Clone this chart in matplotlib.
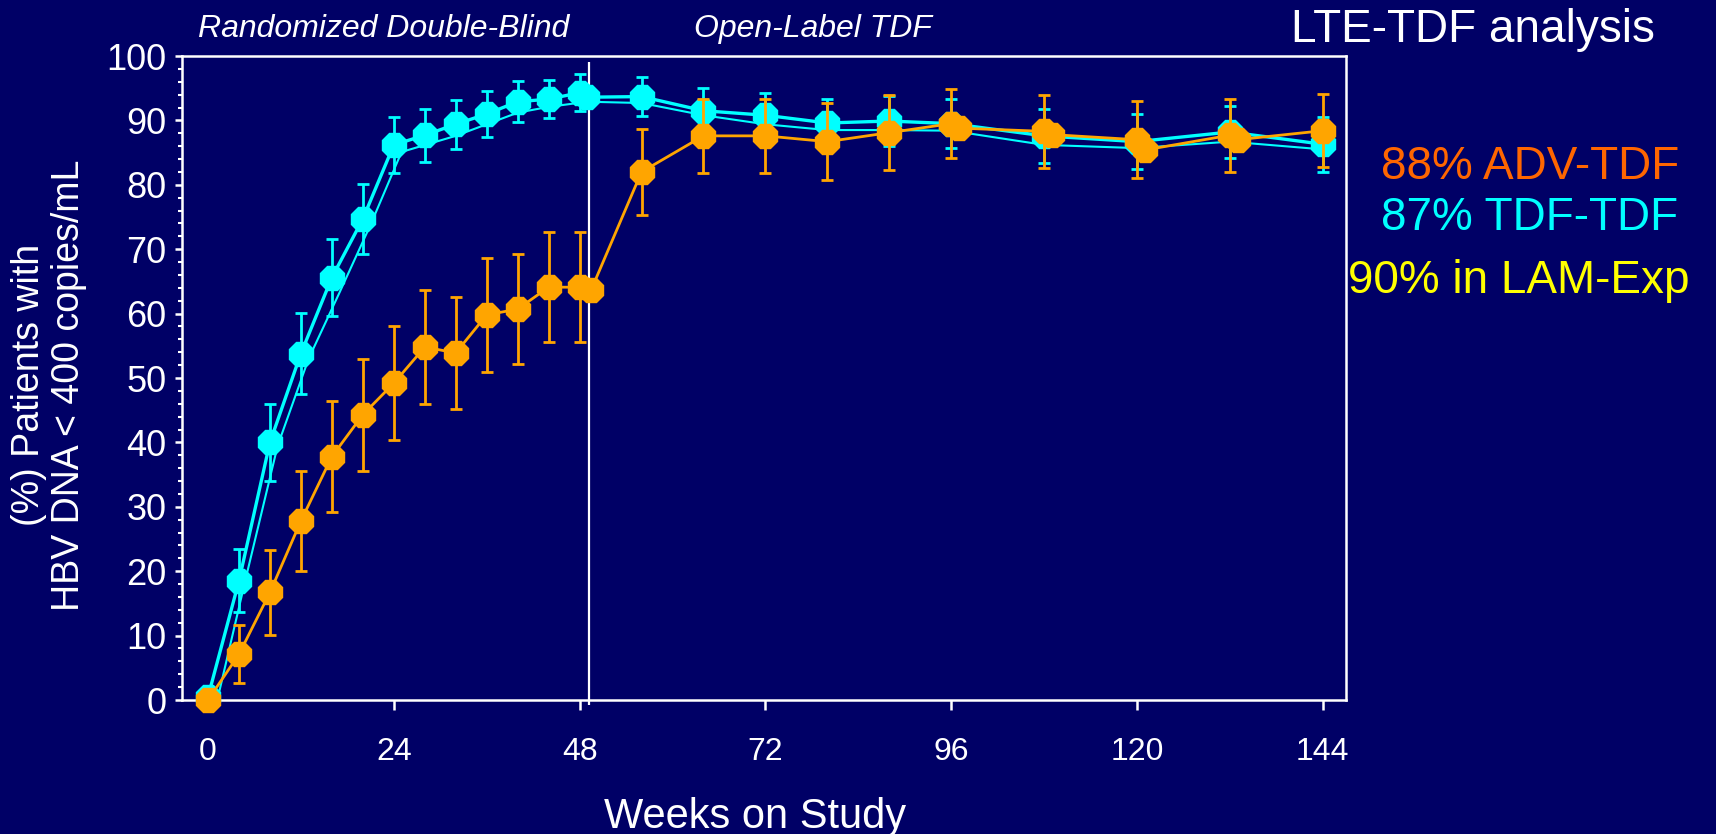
import matplotlib.pyplot as plt
import numpy as np
from matplotlib.ticker import MultipleLocator

plt.rcParams["font.family"] = ["Liberation Sans", "DejaVu Sans"]

BG = "#000066"
CYAN = "#00FFFF"
ORANGE = "#FFA500"

# ---- Data ----
weeks = [0, 4, 8, 12, 16, 20, 24, 28, 32, 36, 40, 44, 48,
         56, 64, 72, 80, 88, 96, 108, 120, 132, 144]

# TDF-TDF (cyan, markers)
tdf_pct = [0.5, 18.5, 40.0, 53.8, 65.6, 74.7, 86.2, 87.7, 89.4, 91.0, 92.9, 93.3, 94.3,
           93.7, 91.5, 90.8, 89.6, 89.9, 89.5, 87.6, 86.7, 88.2, 86.3]
tdf_err = [0.8, 4.9, 6.0, 6.3, 6.0, 5.4, 4.4, 4.1, 3.8, 3.5, 3.2, 3.0, 2.9,
           3.0, 3.5, 3.5, 3.8, 3.9, 3.8, 4.2, 4.3, 4.0, 4.3]
tdf_extra_weeks = [49]
tdf_extra_pct = [93.6]

# second TDF-TDF curve (thin, no markers)
tdf2_weeks = [1.2, 5, 9, 13, 17, 21, 25, 32, 40, 44, 49,
              56, 64, 72, 80, 88, 96, 108, 120, 132, 144]
tdf2_pct = [0, 19.5, 39.5, 53.0, 63.3, 73.8, 85.1, 87.6, 91.2, 92.1, 92.9,
            92.7, 90.8, 89.4, 88.5, 88.5, 88.4, 86.2, 85.7, 86.7, 85.5]

# ADV-TDF (orange)
adv_pct = [0.0, 7.1, 16.7, 27.8, 37.8, 44.3, 49.2, 54.8, 53.9, 59.8, 60.7, 64.1, 64.1,
           82.0, 87.6, 87.6, 86.7, 88.1, 89.5, 88.3, 87.0, 87.7, 88.4]
adv_err = [0.0, 4.5, 6.6, 7.8, 8.6, 8.7, 8.8, 8.8, 8.7, 8.8, 8.5, 8.5, 8.5,
           6.7, 5.8, 5.8, 6.0, 5.8, 5.4, 5.7, 6.0, 5.7, 5.7]
adv_extra_weeks = [49.5, 97, 109, 121, 133]
adv_extra_pct = [63.7, 88.8, 87.8, 85.4, 87.0]

xticks = [0, 24, 48, 72, 96, 120, 144]
phase_split = 49.2


def merged(w, v, ew, ev):
    x = np.concatenate([w, ew])
    y = np.concatenate([v, ev])
    order = np.argsort(x, kind="stable")
    return x[order], y[order]


W, H = 1716, 834
fig = plt.figure(figsize=(W / 100, H / 100), dpi=100, facecolor=BG)
ax = fig.add_axes([182 / W, 1 - 700 / H, (1346 - 182) / W, (700 - 56) / H])
ax.set_facecolor(BG)

# thin cyan curve
ax.plot(tdf2_weeks, tdf2_pct, color=CYAN, lw=1.5, zorder=3)

# TDF-TDF
tx, ty = merged(weeks, tdf_pct, tdf_extra_weeks, tdf_extra_pct)
ax.errorbar(weeks, tdf_pct, yerr=tdf_err, fmt="none", ecolor=CYAN,
            elinewidth=2, capsize=4, capthick=2, zorder=4, clip_on=False)
ax.plot(tx, ty, color=CYAN, lw=2.4, marker="8", ms=18, mec=CYAN, mfc=CYAN,
        zorder=5, clip_on=False)

# ADV-TDF
axx, axy = merged(weeks, adv_pct, adv_extra_weeks, adv_extra_pct)
ax.errorbar(weeks, adv_pct, yerr=adv_err, fmt="none", ecolor=ORANGE,
            elinewidth=2, capsize=4, capthick=2, zorder=6, clip_on=False)
ax.plot(axx, axy, color=ORANGE, lw=2, marker="8", ms=18, mec=ORANGE, mfc=ORANGE,
        zorder=7, clip_on=False)

# phase separator
ax.vlines(phase_split, -0.8, 99, color="white", lw=1.6, zorder=2, clip_on=False)

ax.set_xlim(-3.36, 147.0)
ax.set_ylim(0, 100)
ax.set_xticks(xticks)
ax.set_xticklabels([str(t) for t in xticks])
ax.yaxis.set_major_locator(MultipleLocator(10))
ax.yaxis.set_minor_locator(MultipleLocator(2))

for s in ax.spines.values():
    s.set_color("white")
    s.set_linewidth(1.8)

ax.tick_params(axis="x", which="major", direction="out", length=7, width=1.8,
               colors="white", labelsize=23, pad=20)
ax.tick_params(axis="y", which="major", direction="out", length=5, width=1.8,
               colors="white", labelsize=26, pad=6)
ax.tick_params(axis="y", which="minor", direction="out", length=3, width=1.5,
               colors="white")

# axis titles
fig.text(755 / W, 1 - 828 / H, "Weeks on Study", color="white", fontsize=30,
         ha="center", va="baseline")
fig.text(49 / W, 1 - 385 / H, "(%) Patients with\nHBV DNA < 400 copies/mL",
         color="white", fontsize=27, rotation=90, ha="center", va="center",
         multialignment="center", linespacing=1.15)

# phase labels
fig.text(384 / W, 1 - 37 / H, "Randomized Double-Blind", color="white",
         fontsize=23, style="italic", ha="center", va="baseline")
fig.text(813 / W, 1 - 37 / H, "Open-Label TDF", color="white",
         fontsize=23, style="italic", ha="center", va="baseline")

# annotations on the right
fig.text(1291 / W, 1 - 42 / H, "LTE-TDF analysis", color="white", fontsize=33,
         ha="left", va="baseline")
fig.text(1381 / W, 1 - 179 / H, "88% ADV-TDF", color="#FF6600", fontsize=33,
         ha="left", va="baseline")
fig.text(1381 / W, 1 - 230 / H, "87% TDF-TDF", color=CYAN, fontsize=33,
         ha="left", va="baseline")
fig.text(1348 / W, 1 - 293 / H, "90% in LAM-Exp", color="#FFFF00", fontsize=33,
         ha="left", va="baseline")

fig.savefig("out.png", dpi=100, facecolor=BG)
